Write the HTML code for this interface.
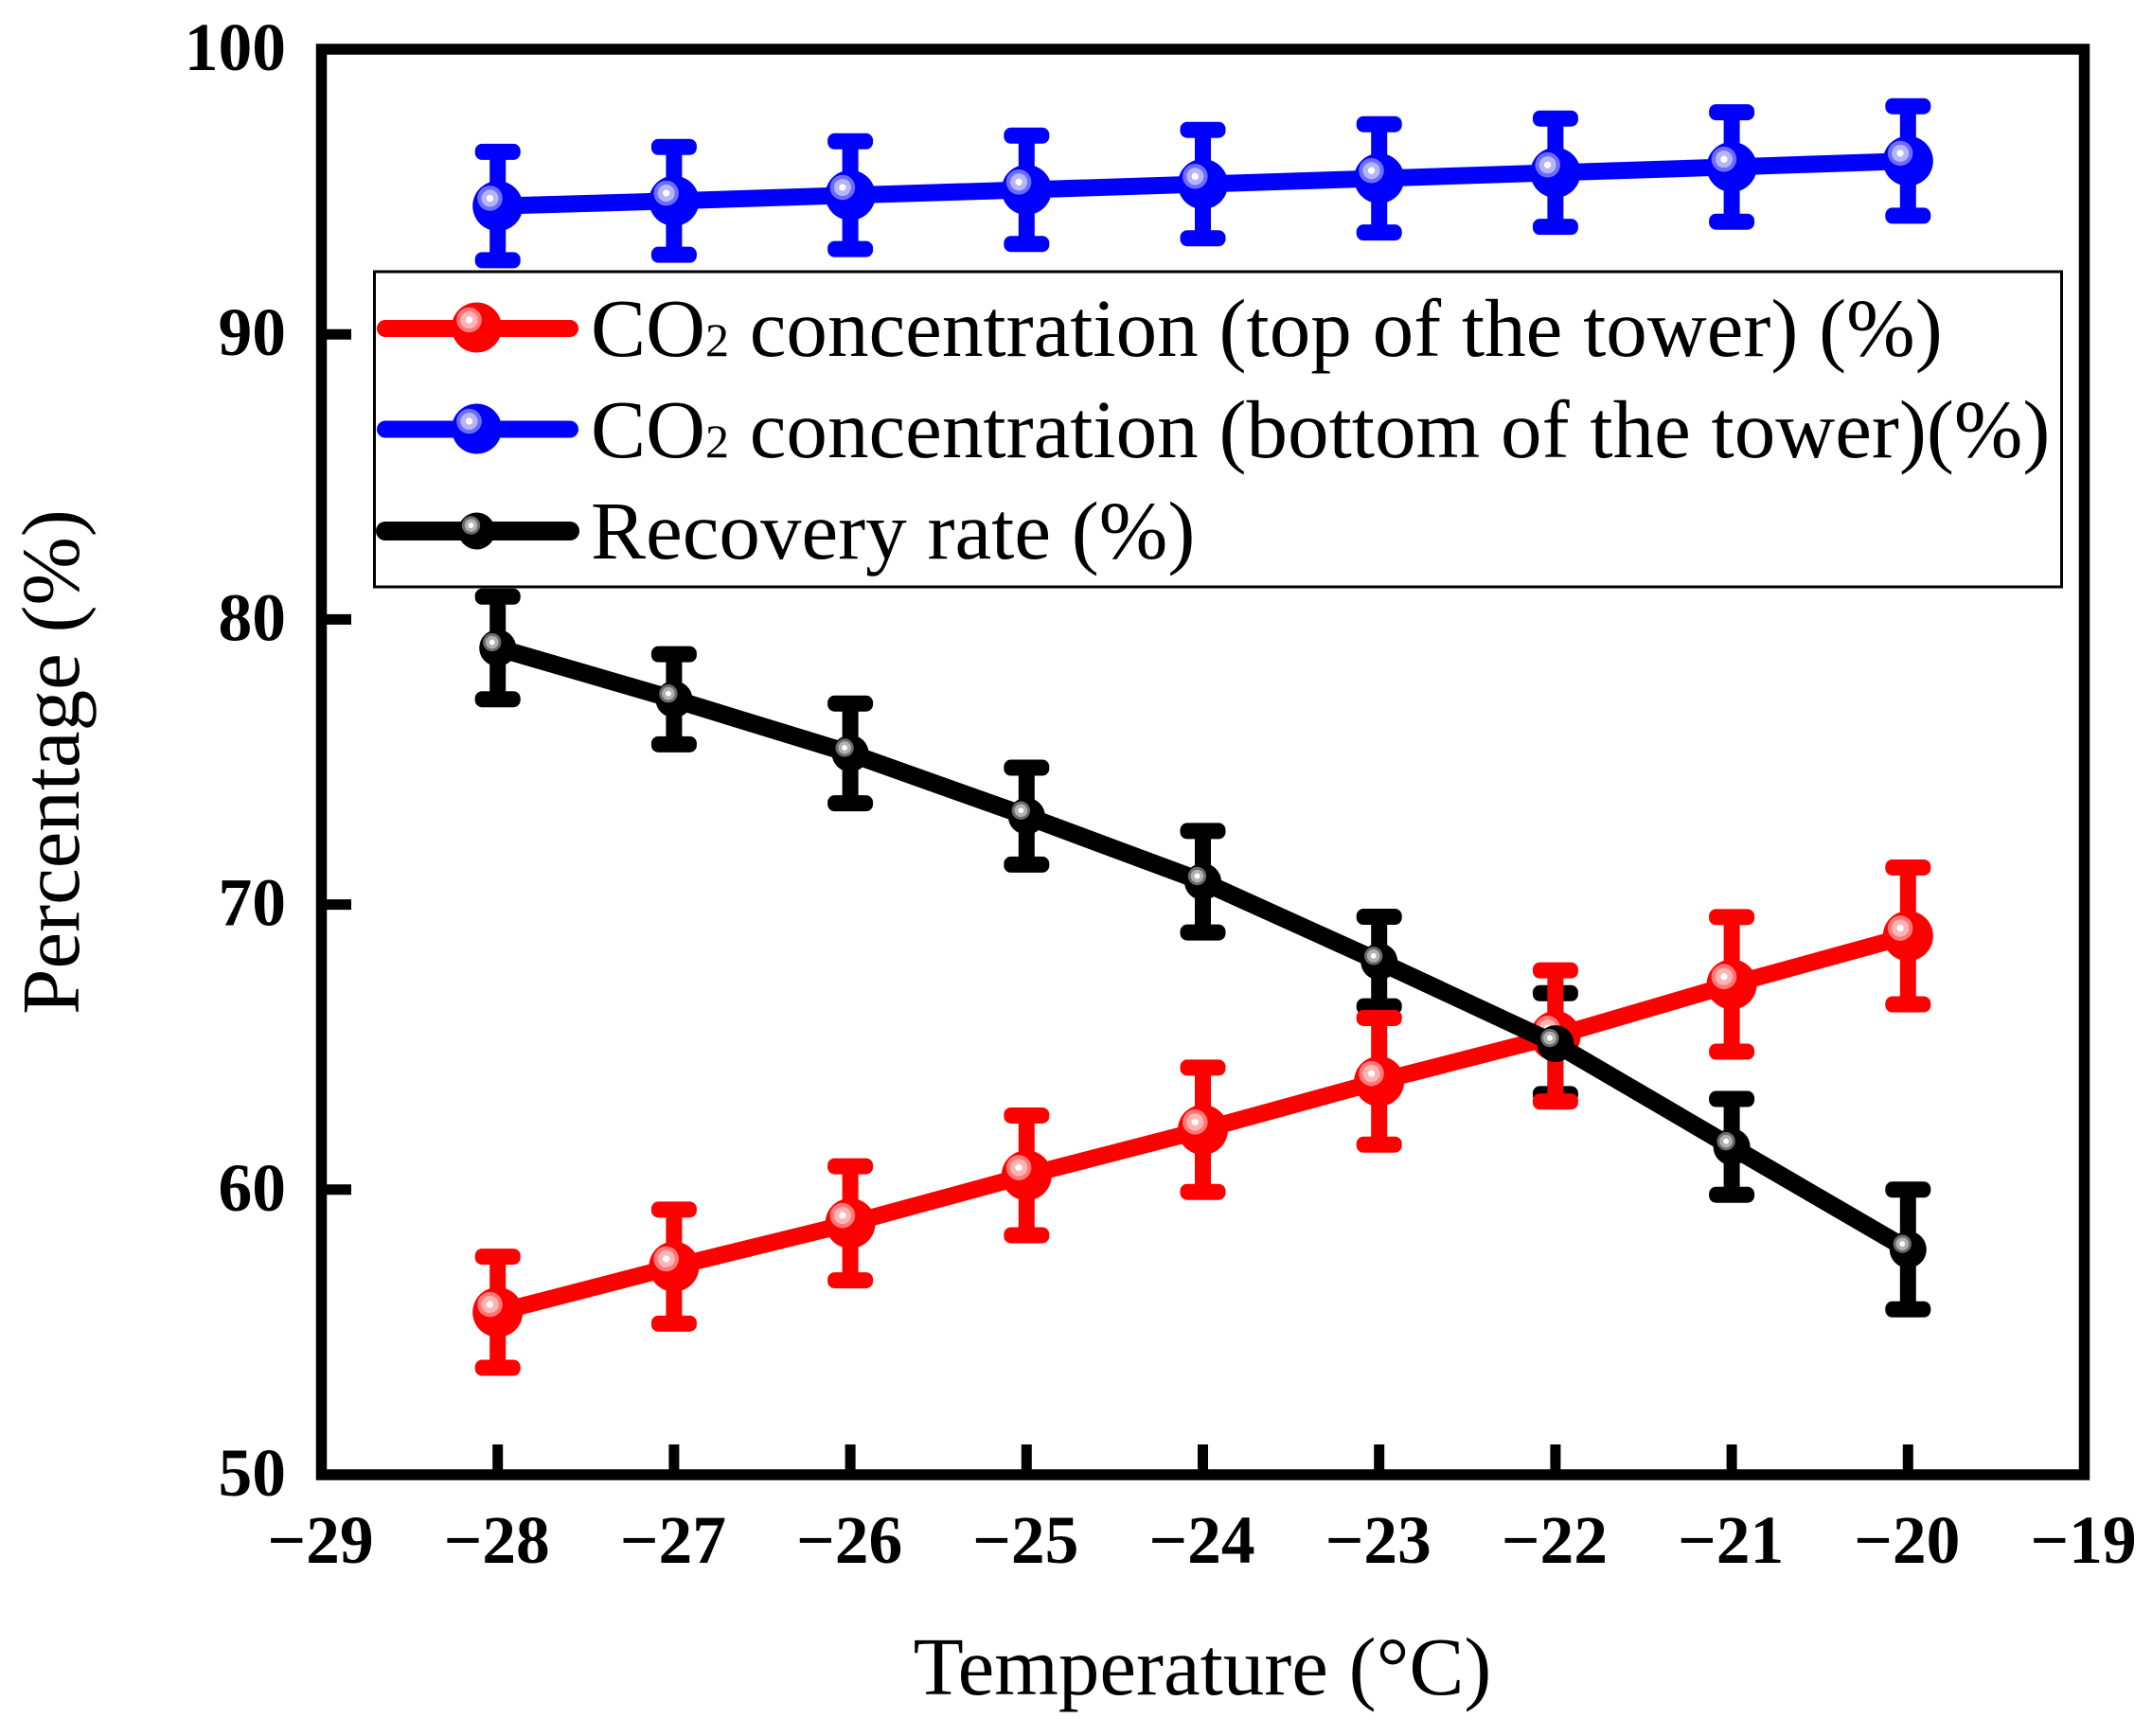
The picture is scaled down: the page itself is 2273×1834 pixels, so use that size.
<!DOCTYPE html>
<html lang="en">
<head>
<meta charset="utf-8">
<title>CO2 concentration and recovery rate vs temperature</title>
<style>
html,body{margin:0;padding:0;background:#fff;width:2273px;height:1834px;overflow:hidden;}
svg{display:block;}
text{font-family:"Liberation Serif",serif;fill:#000;}
.tick{font-weight:bold;font-size:71.5px;}
.legend-text{font-size:87.1px;}
.axis-title{font-size:87px;}
</style>
</head>
<body>
<svg id="chart" xmlns="http://www.w3.org/2000/svg" width="2273" height="1834" viewBox="0 0 2273 1834">
  <defs>
    <radialGradient id="glow-red"><stop offset="0.27" stop-color="#fff"/><stop offset="0.27" stop-color="#ffb4b4"/><stop offset="0.68" stop-color="#ffb4b4"/><stop offset="0.68" stop-color="#ff7878"/><stop offset="1" stop-color="#ff7878"/></radialGradient>
    <radialGradient id="glow-blue"><stop offset="0.27" stop-color="#fff"/><stop offset="0.27" stop-color="#b4b4ff"/><stop offset="0.68" stop-color="#b4b4ff"/><stop offset="0.68" stop-color="#6c6cff"/><stop offset="1" stop-color="#6c6cff"/></radialGradient>
    <radialGradient id="glow-black"><stop offset="0.3" stop-color="#fff"/><stop offset="0.3" stop-color="#b0b0b0"/><stop offset="0.7" stop-color="#b0b0b0"/><stop offset="0.7" stop-color="#6a6a6a"/><stop offset="1" stop-color="#6a6a6a"/></radialGradient>
  </defs>
  <rect width="2273" height="1834" fill="#fff"/>
  <g id="x-ticks"></g>
  <g id="y-ticks"></g>
  <g id="series"></g>
  <rect x="339.5" y="52" width="1862" height="1506" fill="none" stroke="#000" stroke-width="11.5"/>
  <text class="axis-title" x="1270" y="1790" text-anchor="middle">Temperature (°C)</text>
  <text class="axis-title" text-anchor="middle" transform="translate(83 805) rotate(-90)">Percentage (%)</text>
  <g>
    <rect x="395.5" y="287" width="1782" height="333" fill="#fff" stroke="#000" stroke-width="3"/>
    <g>
      <line x1="407" y1="347" x2="602" y2="347" stroke="#f00" stroke-width="18" stroke-linecap="round"/>
      <circle cx="503.5" cy="346" r="26.5" fill="#f00"/>
      <circle cx="495.5" cy="338" r="13.3" fill="url(#glow-red)"/>
      <text class="legend-text" x="624" y="376">CO<tspan font-size="50">2</tspan> concentration (top of the tower) (%)</text>
    </g>
    <g>
      <line x1="407" y1="453.5" x2="602" y2="453.5" stroke="#00f" stroke-width="18" stroke-linecap="round"/>
      <circle cx="503.5" cy="453" r="26.5" fill="#00f"/>
      <circle cx="495.5" cy="445" r="13.3" fill="url(#glow-blue)"/>
      <text class="legend-text" x="624" y="483">CO<tspan font-size="50">2</tspan> concentration (bottom of the tower)(%)</text>
    </g>
    <g>
      <line x1="407" y1="561" x2="602" y2="561" stroke="#000" stroke-width="20" stroke-linecap="round"/>
      <circle cx="503.5" cy="561" r="19.5" fill="#000"/>
      <circle cx="497.5" cy="555" r="9.7" fill="url(#glow-black)"/>
      <text class="legend-text" x="624" y="590">Recovery rate (%)</text>
    </g>
  </g>
</svg>
<script>
const temperatures = [-28, -27, -26, -25, -24, -23, -22, -21, -20];
const topConcentration = [55.7, 57.3, 58.82, 60.5, 62.1, 63.8, 65.39, 67.2, 68.9];
const topError = [1.95, 2.0, 2.0, 2.1, 2.18, 2.22, 2.3, 2.36, 2.4];
const bottomConcentration = [94.5, 94.68, 94.88, 95.07, 95.27, 95.47, 95.67, 95.87, 96.08];
const bottomError = [1.9, 1.89, 1.89, 1.9, 1.9, 1.9, 1.9, 1.92, 1.92];
const recoveryRate = [79.0, 77.2, 75.3, 73.1, 70.8, 68.0, 65.12, 61.5, 57.9];
const recoveryError = [1.8, 1.58, 1.75, 1.7, 1.78, 1.57, 1.77, 1.68, 2.1];
const xTickValues = [-29, -28, -27, -26, -25, -24, -23, -22, -21, -20, -19];
const yTickValues = [50, 60, 70, 80, 90, 100];

const NS = 'http://www.w3.org/2000/svg';
function xScale(v) { return 339.5 + (v + 29) * 186.2; }
function yScale(v) { return 1558 - (v - 50) * 30.12; }
function make(tag, attrs, parent) {
  const el = document.createElementNS(NS, tag);
  for (const k in attrs) el.setAttribute(k, attrs[k]);
  parent.appendChild(el);
  return el;
}

const xTickGroup = document.getElementById('x-ticks');
xTickValues.forEach(function (v) {
  const x = xScale(v);
  if (v > -29 && v < -19) {
    const mark = make('line', { x1: x, x2: x, y1: 1526, y2: 1558, stroke: '#000', 'stroke-width': 11 }, xTickGroup);
    
    
  }
  const label = make('text', { x: x - 1, y: 1651, 'text-anchor': 'middle', class: 'tick' }, xTickGroup);
  label.textContent = '\u2212' + Math.abs(v);
  
  
});

const yTickGroup = document.getElementById('y-ticks');
yTickValues.forEach(function (v) {
  const y = yScale(v);
  if (v > 50 && v < 100) {
    const mark = make('line', { x1: 339.5, x2: 371, y1: y, y2: y, stroke: '#000', 'stroke-width': 11 }, yTickGroup);
    
    
  }
  const label = make('text', { x: 302, y: y + 22, 'text-anchor': 'end', class: 'tick' }, yTickGroup);
  label.textContent = String(v);
  
  
});

const seriesGroup = document.getElementById('series');

function drawErrorBars(values, errors, color, key) {
  const g = make('g', {}, seriesGroup);
  
  
  temperatures.forEach(function (t, i) {
    const x = xScale(t);
    const hi = yScale(values[i] + errors[i]);
    const lo = yScale(values[i] - errors[i]);
    const stem = make('line', { x1: x, x2: x, y1: hi, y2: lo, stroke: color, 'stroke-width': 17 }, g);
    
    
    [hi, lo].forEach(function (capY) {
      const cap = make('rect', { x: x - 24, y: capY - 8.5, width: 48, height: 17, rx: 7.5, ry: 7.5, fill: color }, g);
      
      
    });
  });
}

function drawLine(values, color, width, radius, glowRadius, glowShift, glow, key) {
  const g = make('g', {}, seriesGroup);
  
  
  const pts = temperatures.map(function (t, i) { return xScale(t) + ',' + yScale(values[i]); }).join(' ');
  const line = make('polyline', { points: pts, fill: 'none', stroke: color, 'stroke-width': width, 'stroke-linejoin': 'round' }, g);
  
  
  temperatures.forEach(function (t, i) {
    const x = xScale(t), y = yScale(values[i]);
    const dot = make('circle', { cx: x, cy: y, r: radius, fill: color }, g);
    
    
    const shine = make('circle', { cx: x - glowShift, cy: y - glowShift, r: glowRadius, fill: glow }, g);
    
    
  });
}

drawErrorBars(bottomConcentration, bottomError, '#00f', 'bottom-concentration');
drawLine(bottomConcentration, '#00f', 18, 26.5, 13.3, 8.2, 'url(#glow-blue)', 'bottom-concentration');
drawErrorBars(recoveryRate, recoveryError, '#000', 'recovery');
drawErrorBars(topConcentration, topError, '#f00', 'top-concentration');
drawLine(topConcentration, '#f00', 18, 26.5, 13.3, 8.2, 'url(#glow-red)', 'top-concentration');
drawLine(recoveryRate, '#000', 19, 19.5, 9.7, 6, 'url(#glow-black)', 'recovery');
</script>
</body>
</html>
